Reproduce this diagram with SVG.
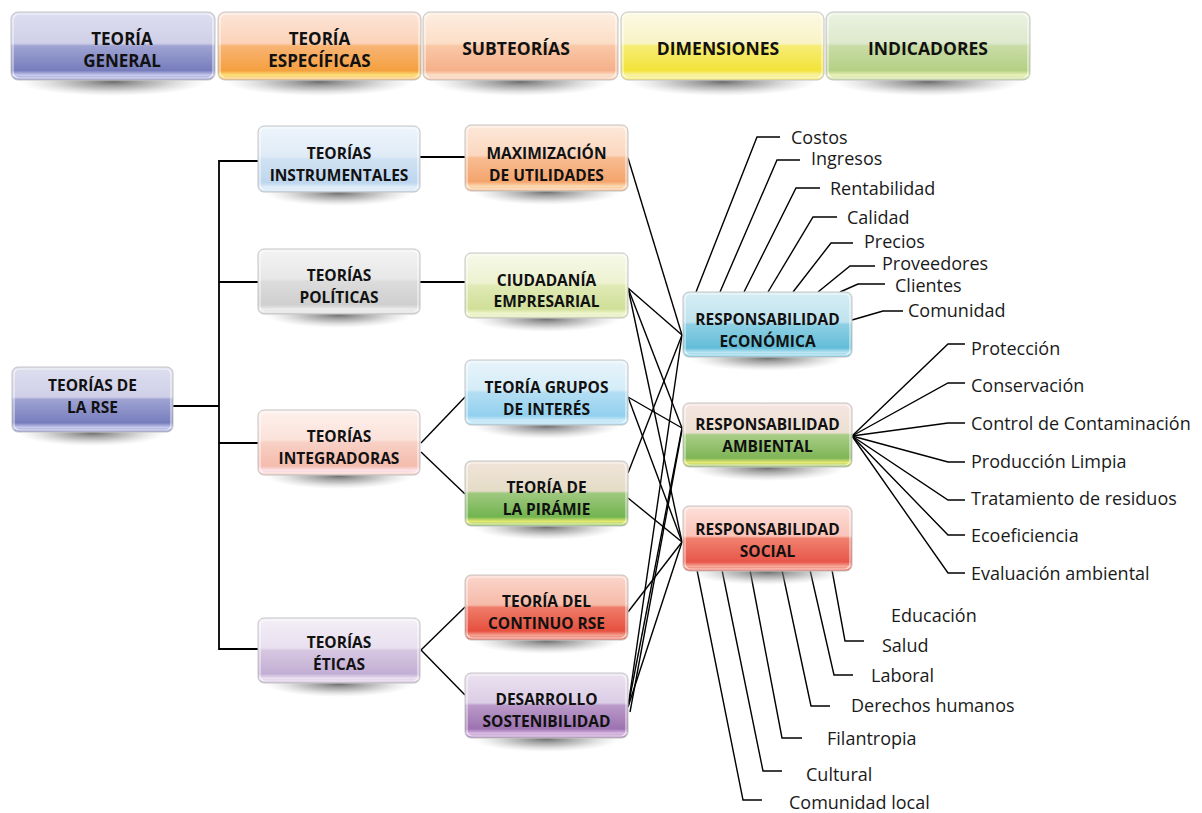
<svg xmlns="http://www.w3.org/2000/svg" width="1202" height="813" viewBox="0 0 1202 813">
<defs>
<style>
.bx{stroke:#c4c4c4;stroke-width:1}
.in{fill:none;stroke:#ffffff;stroke-opacity:.7;stroke-width:1.2}
.sh{fill:url(#shad)}
.t{font-family:"Open Sans","Liberation Sans",Arial,sans-serif;font-weight:700;font-size:15.5px;fill:#111;text-anchor:middle}
.h{font-size:17px}
.h1{font-size:17.5px}
.lb{font-family:"Open Sans","Liberation Sans",Arial,sans-serif;font-size:18px;fill:#1a1a1a}
.ln{fill:none;stroke:#000;stroke-width:1.8}
.cx{fill:none;stroke:#000;stroke-width:1.4}
</style>
<radialGradient id="shad" cx="0.5" cy="0.5" r="0.5">
<stop offset="0" stop-color="#555" stop-opacity=".85"/>
<stop offset=".5" stop-color="#888" stop-opacity=".5"/>
<stop offset="1" stop-color="#bbb" stop-opacity="0"/>
</radialGradient>
<linearGradient id="g-lav" x1="0" y1="0" x2="0" y2="1"><stop offset="0" stop-color="#dedef0"/><stop offset=".46" stop-color="#cfd0e8"/><stop offset=".5" stop-color="#9ea3d2"/><stop offset=".86" stop-color="#777dbc"/><stop offset=".93" stop-color="#c9cbee"/><stop offset="1" stop-color="#8a8fc8"/></linearGradient>
<linearGradient id="g-org" x1="0" y1="0" x2="0" y2="1"><stop offset="0" stop-color="#fde5d9"/><stop offset=".46" stop-color="#fbd3b8"/><stop offset=".5" stop-color="#f8b474"/><stop offset=".86" stop-color="#f4a040"/><stop offset=".93" stop-color="#fde27a"/><stop offset="1" stop-color="#f6b060"/></linearGradient>
<linearGradient id="g-sal" x1="0" y1="0" x2="0" y2="1"><stop offset="0" stop-color="#fdeee0"/><stop offset=".46" stop-color="#fcdec8"/><stop offset=".5" stop-color="#f9c7a6"/><stop offset=".86" stop-color="#f5b08a"/><stop offset=".93" stop-color="#fbe2cc"/><stop offset="1" stop-color="#f6ba98"/></linearGradient>
<linearGradient id="g-yel" x1="0" y1="0" x2="0" y2="1"><stop offset="0" stop-color="#fcf9e4"/><stop offset=".46" stop-color="#f9f3c6"/><stop offset=".5" stop-color="#f6ec74"/><stop offset=".86" stop-color="#f3e33a"/><stop offset=".93" stop-color="#f9f2a8"/><stop offset="1" stop-color="#f4e650"/></linearGradient>
<linearGradient id="g-grn" x1="0" y1="0" x2="0" y2="1"><stop offset="0" stop-color="#ebf2e2"/><stop offset=".46" stop-color="#dde9cc"/><stop offset=".5" stop-color="#c9dca6"/><stop offset=".86" stop-color="#b4d084"/><stop offset=".93" stop-color="#eaf2b8"/><stop offset="1" stop-color="#bcd48e"/></linearGradient>
<linearGradient id="g-lbl" x1="0" y1="0" x2="0" y2="1"><stop offset="0" stop-color="#eef5fb"/><stop offset=".46" stop-color="#dfebf7"/><stop offset=".5" stop-color="#d0e2f3"/><stop offset=".86" stop-color="#bdd6ee"/><stop offset=".93" stop-color="#e4eefa"/><stop offset="1" stop-color="#c4dbf0"/></linearGradient>
<linearGradient id="g-gry" x1="0" y1="0" x2="0" y2="1"><stop offset="0" stop-color="#f4f4f4"/><stop offset=".46" stop-color="#e7e7e7"/><stop offset=".5" stop-color="#dcdcdc"/><stop offset=".86" stop-color="#cfcfcf"/><stop offset=".93" stop-color="#ededed"/><stop offset="1" stop-color="#d4d4d4"/></linearGradient>
<linearGradient id="g-pnk" x1="0" y1="0" x2="0" y2="1"><stop offset="0" stop-color="#fef1ec"/><stop offset=".46" stop-color="#fbe2da"/><stop offset=".5" stop-color="#f8d0c5"/><stop offset=".86" stop-color="#f4bcad"/><stop offset=".93" stop-color="#fce4ec"/><stop offset="1" stop-color="#f5c3b6"/></linearGradient>
<linearGradient id="g-lpu" x1="0" y1="0" x2="0" y2="1"><stop offset="0" stop-color="#f4eff7"/><stop offset=".46" stop-color="#e8e0ef"/><stop offset=".5" stop-color="#d7c7e2"/><stop offset=".86" stop-color="#c3aed4"/><stop offset=".93" stop-color="#ece2f2"/><stop offset="1" stop-color="#c8b4d8"/></linearGradient>
<linearGradient id="g-max" x1="0" y1="0" x2="0" y2="1"><stop offset="0" stop-color="#fde8d9"/><stop offset=".46" stop-color="#fbd7bf"/><stop offset=".5" stop-color="#f8bc92"/><stop offset=".86" stop-color="#f4a46c"/><stop offset=".93" stop-color="#fcdcb4"/><stop offset="1" stop-color="#f5ac78"/></linearGradient>
<linearGradient id="g-ciu" x1="0" y1="0" x2="0" y2="1"><stop offset="0" stop-color="#f6f9e8"/><stop offset=".46" stop-color="#edf2d1"/><stop offset=".5" stop-color="#e0eab6"/><stop offset=".86" stop-color="#d0df98"/><stop offset=".93" stop-color="#f0f5d0"/><stop offset="1" stop-color="#d4e2a0"/></linearGradient>
<linearGradient id="g-gru" x1="0" y1="0" x2="0" y2="1"><stop offset="0" stop-color="#e8f4fb"/><stop offset=".46" stop-color="#d4ecf8"/><stop offset=".5" stop-color="#b3def3"/><stop offset=".86" stop-color="#92d0ee"/><stop offset=".93" stop-color="#d0ecf9"/><stop offset="1" stop-color="#9ad4ef"/></linearGradient>
<linearGradient id="g-pir" x1="0" y1="0" x2="0" y2="1"><stop offset="0" stop-color="#f1e4da"/><stop offset=".46" stop-color="#e4dcc6"/><stop offset=".5" stop-color="#9ec87e"/><stop offset=".86" stop-color="#72b450"/><stop offset=".93" stop-color="#e6ea72"/><stop offset="1" stop-color="#80bc58"/></linearGradient>
<linearGradient id="g-con" x1="0" y1="0" x2="0" y2="1"><stop offset="0" stop-color="#fbd6cc"/><stop offset=".46" stop-color="#f6baa8"/><stop offset=".5" stop-color="#ee7c68"/><stop offset=".86" stop-color="#e6503f"/><stop offset=".93" stop-color="#f4a494"/><stop offset="1" stop-color="#e85c4c"/></linearGradient>
<linearGradient id="g-des" x1="0" y1="0" x2="0" y2="1"><stop offset="0" stop-color="#ebe2f0"/><stop offset=".46" stop-color="#dccde6"/><stop offset=".5" stop-color="#ba9ac9"/><stop offset=".86" stop-color="#9c72b0"/><stop offset=".93" stop-color="#dcbce4"/><stop offset="1" stop-color="#a47cb8"/></linearGradient>
<linearGradient id="g-eco" x1="0" y1="0" x2="0" y2="1"><stop offset="0" stop-color="#d6edf4"/><stop offset=".46" stop-color="#c0e3ee"/><stop offset=".5" stop-color="#8ed0e3"/><stop offset=".86" stop-color="#62bdd8"/><stop offset=".93" stop-color="#bce6f2"/><stop offset="1" stop-color="#6cc2dc"/></linearGradient>
<linearGradient id="g-amb" x1="0" y1="0" x2="0" y2="1"><stop offset="0" stop-color="#f6e5e1"/><stop offset=".46" stop-color="#ece0d2"/><stop offset=".5" stop-color="#a8cd86"/><stop offset=".86" stop-color="#7fb556"/><stop offset=".93" stop-color="#e6ea72"/><stop offset="1" stop-color="#88ba5e"/></linearGradient>
<linearGradient id="g-soc" x1="0" y1="0" x2="0" y2="1"><stop offset="0" stop-color="#fddfd9"/><stop offset=".46" stop-color="#fac4b9"/><stop offset=".5" stop-color="#f0806e"/><stop offset=".86" stop-color="#e8574a"/><stop offset=".93" stop-color="#f6aa9a"/><stop offset="1" stop-color="#ea6052"/></linearGradient>
</defs>
<rect x="0" y="0" width="1202" height="813" fill="#ffffff"/>

<g id="connectors">
<path class="ln" d="M258,161 H219 V649 H258"/>
<path class="ln" d="M173,406 H219"/>
<path class="ln" d="M219,282 H258"/>
<path class="ln" d="M219,443 H258"/>
<path class="ln" d="M420,157 H465"/>
<path class="ln" d="M420,282 H465"/>
<path class="cx" d="M421,443 L465,397"/>
<path class="cx" d="M421,452 L465,494"/>
<path class="cx" d="M421,650 L465,607"/>
<path class="cx" d="M421,650 L465,695"/>
<path class="cx" d="M628,158 L682,335"/>
<path class="cx" d="M628,288 L682,335"/>
<path class="cx" d="M628,288 L682,428"/>
<path class="cx" d="M628,288 L682,542"/>
<path class="cx" d="M628,397 L682,428"/>
<path class="cx" d="M628,397 L682,542"/>
<path class="cx" d="M628,473 L682,335"/>
<path class="cx" d="M628,498 L682,542"/>
<path class="cx" d="M628,612 L682,542"/>
<path class="cx" d="M628,707 L682,335"/>
<path class="cx" d="M628,707 L682,428"/>
<path class="cx" d="M628,707 L682,542"/>
<path class="cx" d="M630,712 L682,430"/>
<path class="cx" d="M696,292 L757,137 H780"/>
<path class="cx" d="M720,292 L777,160 H800"/>
<path class="cx" d="M744,292 L796,188 H820"/>
<path class="cx" d="M768,292 L813,217 H837"/>
<path class="cx" d="M793,292 L831,243 H853"/>
<path class="cx" d="M818,292 L850,266 H875"/>
<path class="cx" d="M840,292 L858,284 H885"/>
<path class="cx" d="M852,320 L883,311 H903"/>
<path class="cx" d="M852,436 L948,344 H965"/>
<path class="cx" d="M852,436 L948,383 H965"/>
<path class="cx" d="M852,436 L948,423 H965"/>
<path class="cx" d="M852,436 L948,462 H965"/>
<path class="cx" d="M852,436 L948,500 H965"/>
<path class="cx" d="M852,436 L948,535 H965"/>
<path class="cx" d="M852,436 L948,573 H965"/>
<path class="cx" d="M832,570 L845,641 H864"/>
<path class="cx" d="M810,570 L834,675 H853"/>
<path class="cx" d="M782,570 L811,706 H830"/>
<path class="cx" d="M750,570 L782,738 H802"/>
<path class="cx" d="M722,570 L763,771 H782"/>
<path class="cx" d="M697,570 L743,800 H762"/>
</g>

<g id="h-general">
<ellipse class="sh" cx="113" cy="82" rx="94" ry="14"/>
<rect class="bx" x="11" y="12" width="204" height="68" rx="7" fill="url(#g-lav)"/>
<rect class="in" x="13" y="14" width="200" height="64" rx="6"/>
<text class="t h" x="122" y="44.5">TEORÍA</text>
<text class="t h" x="122" y="66.5">GENERAL</text>
</g>
<g id="h-especificas">
<ellipse class="sh" cx="319.5" cy="82" rx="94" ry="14"/>
<rect class="bx" x="218" y="12" width="203" height="68" rx="7" fill="url(#g-org)"/>
<rect class="in" x="220" y="14" width="199" height="64" rx="6"/>
<text class="t h" x="319.5" y="44.5">TEORÍA</text>
<text class="t h" x="319.5" y="66.5">ESPECÍFICAS</text>
</g>
<g id="h-subteorias">
<ellipse class="sh" cx="520.5" cy="82" rx="90" ry="14"/>
<rect class="bx" x="423" y="12" width="195" height="68" rx="7" fill="url(#g-sal)"/>
<rect class="in" x="425" y="14" width="191" height="64" rx="6"/>
<text class="t h1" x="516" y="55">SUBTEORÍAS</text>
</g>
<g id="h-dimensiones">
<ellipse class="sh" cx="722.5" cy="82" rx="94" ry="14"/>
<rect class="bx" x="621" y="12" width="203" height="68" rx="7" fill="url(#g-yel)"/>
<rect class="in" x="623" y="14" width="199" height="64" rx="6"/>
<text class="t h1" x="718" y="55">DIMENSIONES</text>
</g>
<g id="h-indicadores">
<ellipse class="sh" cx="928" cy="82" rx="94" ry="14"/>
<rect class="bx" x="826" y="12" width="204" height="68" rx="7" fill="url(#g-grn)"/>
<rect class="in" x="828" y="14" width="200" height="64" rx="6"/>
<text class="t h1" x="928" y="55">INDICADORES</text>
</g>

<g id="n-rse">
<ellipse class="sh" cx="92.5" cy="433" rx="74" ry="13"/>
<rect class="bx" x="12" y="367" width="161" height="65" rx="6" fill="url(#g-lav)"/>
<rect class="in" x="14" y="369" width="157" height="61" rx="5"/>
<text class="t" x="92.5" y="391">TEORÍAS DE</text>
<text class="t" x="92.5" y="413">LA RSE</text>
</g>
<g id="n-instrumentales">
<ellipse class="sh" cx="339" cy="193" rx="74" ry="13"/>
<rect class="bx" x="258" y="126" width="162" height="66" rx="6" fill="url(#g-lbl)"/>
<rect class="in" x="260" y="128" width="158" height="62" rx="5"/>
<text class="t" x="339" y="159">TEORÍAS</text>
<text class="t" x="339" y="181">INSTRUMENTALES</text>
</g>
<g id="n-politicas">
<ellipse class="sh" cx="339" cy="315" rx="74" ry="13"/>
<rect class="bx" x="258" y="249" width="162" height="65" rx="6" fill="url(#g-gry)"/>
<rect class="in" x="260" y="251" width="158" height="61" rx="5"/>
<text class="t" x="339" y="281">TEORÍAS</text>
<text class="t" x="339" y="303">POLÍTICAS</text>
</g>
<g id="n-integradoras">
<ellipse class="sh" cx="339" cy="476" rx="74" ry="13"/>
<rect class="bx" x="258" y="410" width="162" height="65" rx="6" fill="url(#g-pnk)"/>
<rect class="in" x="260" y="412" width="158" height="61" rx="5"/>
<text class="t" x="339" y="442">TEORÍAS</text>
<text class="t" x="339" y="464">INTEGRADORAS</text>
</g>
<g id="n-eticas">
<ellipse class="sh" cx="339" cy="684" rx="74" ry="13"/>
<rect class="bx" x="258" y="618" width="162" height="65" rx="6" fill="url(#g-lpu)"/>
<rect class="in" x="260" y="620" width="158" height="61" rx="5"/>
<text class="t" x="339" y="648">TEORÍAS</text>
<text class="t" x="339" y="670">ÉTICAS</text>
</g>
<g id="n-maximizacion">
<ellipse class="sh" cx="546.5" cy="192" rx="74" ry="13"/>
<rect class="bx" x="465" y="125" width="163" height="66" rx="6" fill="url(#g-max)"/>
<rect class="in" x="467" y="127" width="159" height="62" rx="5"/>
<text class="t" x="546.5" y="159">MAXIMIZACIÓN</text>
<text class="t" x="546.5" y="181">DE UTILIDADES</text>
</g>
<g id="n-ciudadania">
<ellipse class="sh" cx="546.5" cy="319" rx="74" ry="13"/>
<rect class="bx" x="465" y="253" width="163" height="65" rx="6" fill="url(#g-ciu)"/>
<rect class="in" x="467" y="255" width="159" height="61" rx="5"/>
<text class="t" x="546.5" y="285.5">CIUDADANÍA</text>
<text class="t" x="546.5" y="307">EMPRESARIAL</text>
</g>
<g id="n-grupos">
<ellipse class="sh" cx="546.5" cy="426" rx="74" ry="13"/>
<rect class="bx" x="465" y="360" width="163" height="65" rx="6" fill="url(#g-gru)"/>
<rect class="in" x="467" y="362" width="159" height="61" rx="5"/>
<text class="t" x="546.5" y="393">TEORÍA GRUPOS</text>
<text class="t" x="546.5" y="414.5">DE INTERÉS</text>
</g>
<g id="n-piramide">
<ellipse class="sh" cx="546.5" cy="527" rx="74" ry="13"/>
<rect class="bx" x="465" y="461" width="163" height="65" rx="6" fill="url(#g-pir)"/>
<rect class="in" x="467" y="463" width="159" height="61" rx="5"/>
<text class="t" x="546.5" y="493">TEORÍA DE</text>
<text class="t" x="546.5" y="515">LA PIRÁMIE</text>
</g>
<g id="n-continuo">
<ellipse class="sh" cx="546.5" cy="641" rx="74" ry="13"/>
<rect class="bx" x="465" y="575" width="163" height="65" rx="6" fill="url(#g-con)"/>
<rect class="in" x="467" y="577" width="159" height="61" rx="5"/>
<text class="t" x="546.5" y="607">TEORÍA DEL</text>
<text class="t" x="546.5" y="628.5">CONTINUO RSE</text>
</g>
<g id="n-desarrollo">
<ellipse class="sh" cx="546.5" cy="739" rx="74" ry="13"/>
<rect class="bx" x="465" y="673" width="163" height="65" rx="6" fill="url(#g-des)"/>
<rect class="in" x="467" y="675" width="159" height="61" rx="5"/>
<text class="t" x="546.5" y="705">DESARROLLO</text>
<text class="t" x="546.5" y="727">SOSTENIBILIDAD</text>
</g>
<g id="n-economica">
<ellipse class="sh" cx="767.5" cy="358" rx="78" ry="13"/>
<rect class="bx" x="683" y="292" width="169" height="65" rx="6" fill="url(#g-eco)"/>
<rect class="in" x="685" y="294" width="165" height="61" rx="5"/>
<text class="t" x="767.5" y="325">RESPONSABILIDAD</text>
<text class="t" x="767.5" y="346.5">ECONÓMICA</text>
</g>
<g id="n-ambiental">
<ellipse class="sh" cx="767.5" cy="468" rx="78" ry="13"/>
<rect class="bx" x="683" y="403" width="169" height="64" rx="6" fill="url(#g-amb)"/>
<rect class="in" x="685" y="405" width="165" height="60" rx="5"/>
<text class="t" x="767.5" y="430">RESPONSABILIDAD</text>
<text class="t" x="767.5" y="452">AMBIENTAL</text>
</g>
<g id="n-social">
<ellipse class="sh" cx="767.5" cy="572" rx="78" ry="13"/>
<rect class="bx" x="683" y="506" width="169" height="65" rx="6" fill="url(#g-soc)"/>
<rect class="in" x="685" y="508" width="165" height="61" rx="5"/>
<text class="t" x="767.5" y="535">RESPONSABILIDAD</text>
<text class="t" x="767.5" y="557">SOCIAL</text>
</g>

<g id="labels-economica">
<text class="lb" x="791" y="144">Costos</text>
<text class="lb" x="811" y="165">Ingresos</text>
<text class="lb" x="830" y="195">Rentabilidad</text>
<text class="lb" x="847" y="224">Calidad</text>
<text class="lb" x="864" y="248">Precios</text>
<text class="lb" x="882" y="269.5" font-size="17px">Proveedores</text>
<text class="lb" x="895" y="291.5" font-size="17.5px">Clientes</text>
<text class="lb" x="908" y="317">Comunidad</text>
</g>
<g id="labels-ambiental">
<text class="lb" x="971" y="355">Protección</text>
<text class="lb" x="971" y="392">Conservación</text>
<text class="lb" x="971" y="430">Control de Contaminación</text>
<text class="lb" x="971" y="468">Producción Limpia</text>
<text class="lb" x="971" y="505">Tratamiento de residuos</text>
<text class="lb" x="971" y="542">Ecoeficiencia</text>
<text class="lb" x="971" y="580">Evaluación ambiental</text>
</g>
<g id="labels-social">
<text class="lb" x="891" y="622">Educación</text>
<text class="lb" x="882" y="652">Salud</text>
<text class="lb" x="871" y="682">Laboral</text>
<text class="lb" x="851" y="712">Derechos humanos</text>
<text class="lb" x="827" y="745">Filantropia</text>
<text class="lb" x="806" y="781">Cultural</text>
<text class="lb" x="789" y="809">Comunidad local</text>
</g>
</svg>
